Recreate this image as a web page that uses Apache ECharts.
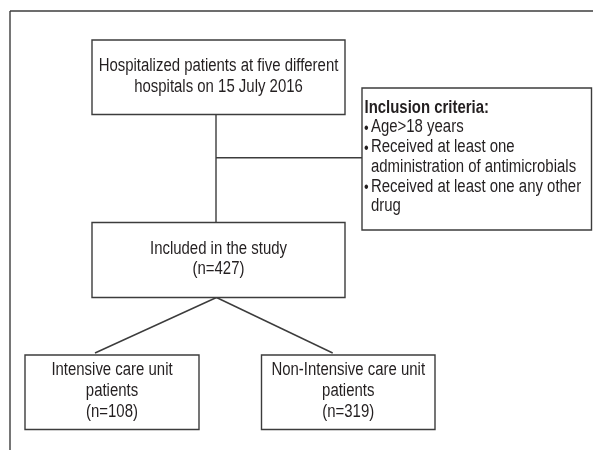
<!DOCTYPE html>
<html><head><meta charset="utf-8">
<script src="https://cdn.jsdelivr.net/npm/echarts@6/dist/echarts.min.js"></script>
<style>html,body{margin:0;padding:0;background:#fff}#c{width:593px;height:450px}</style>
</head><body><div id="c"></div>
<script>
// ---- data ----
const totalIncluded = 427;
const groupCounts = [108, 319];
const sourceLabel = ["Hospitalized patients at five different", "hospitals on 15 July 2016"];
const studyLabel = ["Included in the study", "(n=" + totalIncluded + ")"];
const groupLabels = [["Intensive care unit", "patients", "(n=" + groupCounts[0] + ")"],
                     ["Non-Intensive care unit", "patients", "(n=" + groupCounts[1] + ")"]];
const criteriaTitle = "Inclusion criteria:";
const criteriaItems = [["Age>18 years"], ["Received at least one", "administration of antimicrobials"], ["Received at least one any other", "drug"]];

// ---- layout (diagram coordinates) ----
const layout = {
  source: [92, 40, 345, 114.5],
  study: [92, 222.5, 345, 297.5],
  g1: [25, 355, 199, 429.5],
  g2: [261.5, 355, 435, 429.5],
  criteria: [362, 88, 591.5, 230]
};
const FONT = '"Liberation Sans", Arial, sans-serif';
const FS = 18, SX = 0.83, LH = 20.8, CLH = 19.7, LINE = '#3c3c3c', TXT = '#231f20';

const boxData = [
  {box: layout.source, lines: sourceLabel},
  {box: layout.study, lines: studyLabel},
  {box: layout.g1, lines: groupLabels[0]},
  {box: layout.g2, lines: groupLabels[1]}
];
const cx = (b) => (b[0] + b[2]) / 2;
const trunkX = 216;
const segs = [
  [10, 11, 593, 11], [10, 11, 10, 450],
  [trunkX, layout.source[3], trunkX, layout.study[1]],
  [trunkX, 157.7, layout.criteria[0], 157.7],
  [trunkX + 0.5, layout.study[3], 95, layout.g1[1] - 2],
  [trunkX + 0.5, layout.study[3], 332.7, layout.g2[1] - 2]
];

function txt(s, x, y, align, bold, size) {
  return {type: 'text', x: x, y: y, scaleX: SX, scaleY: 1,
    style: {text: s, x: 0, y: 0, align: align, verticalAlign: 'middle',
      font: (bold ? 'bold ' : '') + (size || FS) + 'px ' + FONT, fill: TXT}};
}

const chart = echarts.init(document.getElementById('c'));
function rectOf(api, b) {
  const p0 = api.coord([b[0], b[1]]), p1 = api.coord([b[2], b[3]]);
  return {x: p0[0], y: p0[1], width: p1[0] - p0[0], height: p1[1] - p0[1]};
}
chart.setOption({
  animation: false,
  grid: {left: 0, right: 0, top: 0, bottom: 0},
  xAxis: {type: 'value', min: 0, max: 593, show: false},
  yAxis: {type: 'value', min: 0, max: 450, inverse: true, show: false},
  series: [
    {
      type: 'custom', coordinateSystem: 'cartesian2d', silent: true,
      data: segs,
      renderItem: function (params, api) {
        const a = api.coord([api.value(0), api.value(1)]), b = api.coord([api.value(2), api.value(3)]);
        return {type: 'line', shape: {x1: a[0], y1: a[1], x2: b[0], y2: b[1]}, style: {stroke: LINE, lineWidth: 1.4}};
      }
    },
    {
      type: 'custom', coordinateSystem: 'cartesian2d', silent: true,
      data: boxData.map((d, i) => [cx(d.box), (d.box[1] + d.box[3]) / 2, i]),
      renderItem: function (params, api) {
        const d = boxData[params.dataIndex];
        const r = rectOf(api, d.box);
        const children = [{type: 'rect', shape: r, style: {fill: '#fff', stroke: LINE, lineWidth: 1.4}}];
        const n = d.lines.length;
        const c = api.coord([cx(d.box), (d.box[1] + d.box[3]) / 2]);
        d.lines.forEach((t, k) => {
          children.push(txt(t, c[0], c[1] - 1 + (k - (n - 1) / 2) * LH, 'center', false));
        });
        return {type: 'group', children: children};
      }
    },
    {
      type: 'custom', coordinateSystem: 'cartesian2d', silent: true,
      data: [[layout.criteria[0], layout.criteria[1]]],
      renderItem: function (params, api) {
        const b = layout.criteria;
        const r = rectOf(api, b);
        const children = [{type: 'rect', shape: r, style: {fill: '#fff', stroke: LINE, lineWidth: 1.4}}];
        const rows = [{t: criteriaTitle, bold: true}];
        criteriaItems.forEach(it => it.forEach((t, k) => rows.push({t: t, bullet: k === 0})));
        const n = rows.length;
        const c = api.coord([b[0], (b[1] + b[3]) / 2]);
        rows.forEach((row, k) => {
          const y = c[1] - 2 + (k - (n - 1) / 2) * CLH;
          if (row.bold) {
            children.push(txt(row.t, c[0] + 2.5, y, 'left', true));
          } else {
            if (row.bullet) children.push(txt('•', c[0] + 2, y + 1, 'left', false, 16));
            children.push(txt(row.t, c[0] + 9, y, 'left', false));
          }
        });
        return {type: 'group', children: children};
      }
    }
  ]
});
</script></body></html>
